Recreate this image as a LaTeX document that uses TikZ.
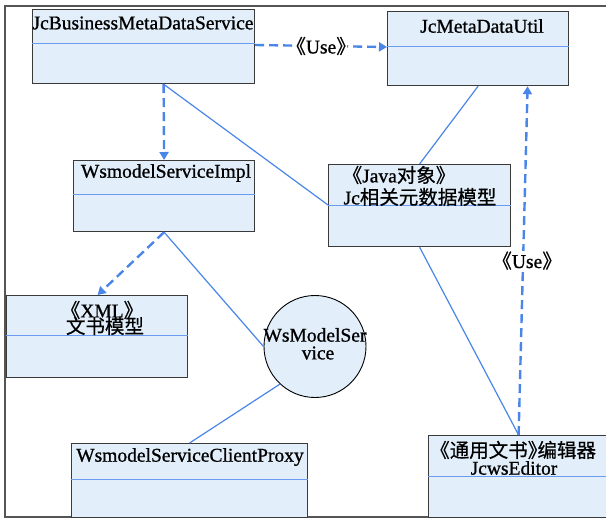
\documentclass[tikz,border=0pt]{standalone}
\usepackage{fontspec}
\setmainfont{Liberation Serif}[FakeBold=0.9]
\newfontfamily\cjk{Noto Sans CJK SC}[FakeBold=0.6]
\newfontfamily\cjkh{Noto Sans CJK SC}[RawFeature=+halt,FakeBold=0.6]
\usetikzlibrary{arrows.meta,calc}
\definecolor{boxfill}{HTML}{E2EFFA}
\definecolor{boxline}{HTML}{3A3A3A}
\definecolor{sepblue}{HTML}{6A9BF0}
\definecolor{connblue}{HTML}{4A86E8}
\definecolor{framegray}{HTML}{555555}
\newcommand\LQ{{\cjkh 《}}
\newcommand\RQ{{\cjkh 》}}
\begin{document}
\begin{tikzpicture}[x=1pt,y=-1pt,
  font=\fontsize{19.5}{22}\selectfont,
  umlbox/.style={draw=boxline, fill=boxfill, line width=1.2pt, rectangle, inner sep=0pt, anchor=north west},
  sepline/.style={draw=sepblue, line width=1pt},
  conn/.style={draw=connblue, line width=1.2pt},
  dep/.style={draw=connblue, line width=2.4pt, dash pattern=on 9pt off 5pt, -{Triangle[length=8pt,width=9pt]}},
  lbl/.style={inner sep=0pt, text=black},
  uselbl/.style={fill=white, inner sep=1pt, text=black}]
\useasboundingbox (0,0) rectangle (606,519);
\fill[white] (0,0) rectangle (606,519);
\draw[framegray, line width=1.3pt] (5,6) rectangle (630,517);

% boxes
\node[umlbox, minimum width=222pt, minimum height=74pt] (jbm) at (32,9) {};
\node[umlbox, minimum width=181pt, minimum height=74pt] (util) at (387,11) {};
\node[umlbox, minimum width=181pt, minimum height=71pt] (impl) at (73,160) {};
\node[umlbox, minimum width=182pt, minimum height=82pt] (java) at (328,164) {};
\node[umlbox, minimum width=181pt, minimum height=82pt] (xml) at (6,295) {};
\node[umlbox, minimum width=236pt, minimum height=74pt] (proxy) at (71,443) {};
\node[umlbox, minimum width=192pt, minimum height=82pt] (editor) at (428,435) {};
\node[circle, draw=black, fill=boxfill, line width=0.9pt, minimum size=102pt, inner sep=0pt] (svc) at (315,346.5) {};

% separators
\draw[sepline] ([yshift=-35pt]jbm.north west) -- ([yshift=-35pt]jbm.north east);
\draw[sepline] ([yshift=-36pt]util.north west) -- ([yshift=-36pt]util.north east);
\draw[sepline] ([yshift=-34pt]impl.north west) -- ([yshift=-34pt]impl.north east);
\draw[sepline] ([yshift=-41pt]java.north west) -- ([yshift=-41pt]java.north east);
\draw[sepline] ([yshift=-40pt]xml.north west) -- ([yshift=-40pt]xml.north east);
\draw[sepline] ([yshift=-36pt]proxy.north west) -- ([yshift=-36pt]proxy.north east);
\draw[sepline] ([yshift=-41pt]editor.north west) -- ([yshift=-41pt]editor.north east);

% titles
\node[lbl] (jbmT) at (143,23) {JcBusinessMetaDataService};
\node[lbl] (utilT) at (482,26) {JcMetaDataUtil};
\node[lbl] (implT) at (166,173) {WsmodelServiceImpl};
\node[lbl] (proxyT) at (190,457) {WsmodelServiceClientProxy};
\node[lbl] (javaT1) at (399,175) {\LQ Java{\cjk 对象}\RQ};
\node[lbl] (javaT2) at (420,197) {Jc{\cjk 相关元数据模型}};
\node[lbl] (xmlT1) at (102,310) {\LQ XML\RQ};
\node[lbl] (xmlT2) at (105,326) {{\cjk 文书模型}};
\node[lbl] (editorT1) at (518,450) {\LQ{\cjk 通用文书}\RQ{\cjk 编辑器}};
\node[lbl] (editorT2) at (514,468) {JcwsEditor};
\node[lbl] (svcT1) at (315,335) {WsModelSer};
\node[lbl] (svcT2) at (318,353) {vice};

% connectors
\draw[conn] ([xshift=20pt]jbm.south) -- ([yshift=-41pt]java.north west);
\draw[conn] (util.south) -- (java.north);
\draw[conn] (impl.south) -- (svc.west);
\draw[conn] (svc.227) -- (proxy.north);
\draw[conn] (java.south) -- ([xshift=-6pt]editor.north);
\draw[dep] ([yshift=-36pt]jbm.north east) -- node[uselbl] (use1) {\LQ Use\RQ} ([yshift=-36pt]util.north west);
\draw[dep] ([xshift=20pt]jbm.south) -- (impl.north);
\draw[dep] (impl.south) -- ([xshift=0.5pt]xml.north);
\draw[dep] ([xshift=-6pt]editor.north) -- node[uselbl, xshift=4pt] (use2) {\LQ Use\RQ} ([xshift=49.5pt]util.south);
\end{tikzpicture}
\end{document}
